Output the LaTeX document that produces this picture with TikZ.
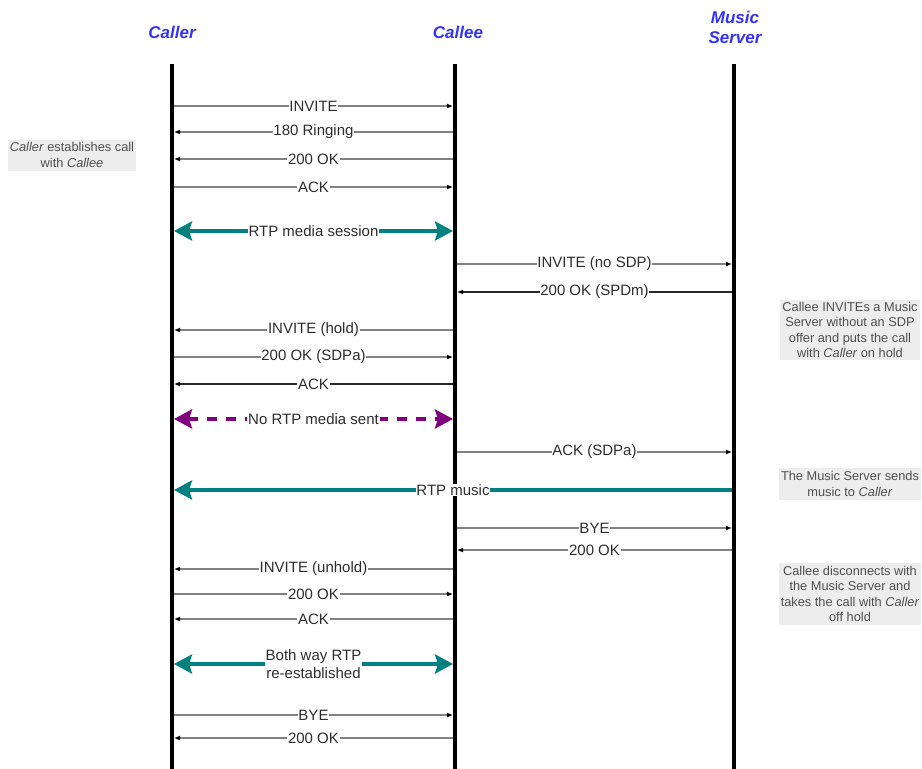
\documentclass[tikz,border=0pt]{standalone}
\usepackage{fontspec}
\setmainfont{Liberation Sans}
\usetikzlibrary{arrows.meta,positioning}
\definecolor{headblue}{RGB}{50,50,250}
\definecolor{mediateal}{RGB}{0,128,128}
\definecolor{holdpurple}{RGB}{128,0,128}
\definecolor{msggray}{RGB}{130,130,130}
\definecolor{msgdark}{RGB}{40,40,40}
\definecolor{txtdark}{RGB}{45,45,45}
\definecolor{notefill}{RGB}{237,237,237}
\definecolor{notetext}{RGB}{80,80,80}

\begin{document}
\begin{tikzpicture}[
    x=1pt, y=-1pt,
    every node/.style={align=center},
    actor/.style={font=\fontsize{17}{20}\selectfont\bfseries\itshape, text=headblue},
    lifeline/.style={line width=4pt, draw=black},
    msg/.style={draw=msggray, line width=1.3pt, -{Latex[length=6pt,width=5pt,color=black]}, shorten >=2pt, shorten <=2pt},
    darkmsg/.style={msg, draw=msgdark},
    media/.style={draw=mediateal, line width=4.5pt, {Stealth[length=18pt,width=19pt,inset=3pt]}-{Stealth[length=18pt,width=19pt,inset=3pt]}, shorten >=2pt, shorten <=2pt},
    onewaymedia/.style={media, -{Stealth[length=18pt,width=19pt,inset=3pt]}},
    nomedia/.style={media, draw=holdpurple, dash pattern=on 10pt off 9pt},
    lbl/.style={fill=white, inner sep=0.8pt, text=txtdark, font=\fontsize{15}{17}\selectfont},
    note/.style={fill=notefill, text=notetext, inner sep=2pt, font=\fontsize{12.8}{15.5}\selectfont}
]
\useasboundingbox (0,0) rectangle (922,769);

% Participants
\node[actor] (caller) at (172,32) {Caller};
\node[actor] (callee) at (458,32) {Callee};
\node[actor] (server) at (735,27) {Music\\Server};

% Lifelines
\coordinate (callerL) at (172,64);
\coordinate (calleeL) at (455,64);
\coordinate (serverL) at (734,64);
\draw[lifeline] (callerL) -- (callerL |- 0,769);
\draw[lifeline] (calleeL) -- (calleeL |- 0,769);
\draw[lifeline] (serverL) -- (serverL |- 0,769);

% Message rows
\foreach \y [count=\i] in {106,132,159,187,231,264,292,330,357,384,419,452,490,528,550,569,594,619,664,715,738}{
  \coordinate (caller-\i) at (callerL |- 0,\y);
  \coordinate (callee-\i) at (calleeL |- 0,\y);
  \coordinate (server-\i) at (serverL |- 0,\y);
}

% Call set-up
\draw[msg] (caller-1) -- node[lbl] {INVITE} (callee-1);
\draw[msg] (callee-2) -- node[lbl] {180 Ringing} (caller-2);
\draw[msg] (callee-3) -- node[lbl] {200 OK} (caller-3);
\draw[msg] (caller-4) -- node[lbl] {ACK} (callee-4);
\draw[media] (caller-5) -- node[lbl] {RTP media session} (callee-5);

% Hold with music server
\draw[msg] (callee-6) -- node[lbl] {INVITE (no SDP)} (server-6);
\draw[darkmsg] (server-7) -- node[lbl] {200 OK (SPDm)} (callee-7);
\draw[msg] (callee-8) -- node[lbl] {INVITE (hold)} (caller-8);
\draw[msg] (caller-9) -- node[lbl] {200 OK (SDPa)} (callee-9);
\draw[darkmsg] (callee-10) -- node[lbl] {ACK} (caller-10);
\draw[nomedia] (caller-11) -- node[lbl] {No RTP media sent} (callee-11);
\draw[msg] (callee-12) -- node[lbl] {ACK (SDPa)} (server-12);
\draw[onewaymedia] (server-13) -- node[lbl] {RTP music} (caller-13);

% Unhold
\draw[msg] (callee-14) -- node[lbl] {BYE} (server-14);
\draw[msg] (server-15) -- node[lbl] {200 OK} (callee-15);
\draw[msg] (callee-16) -- node[lbl] {INVITE (unhold)} (caller-16);
\draw[msg] (caller-17) -- node[lbl] {200 OK} (callee-17);
\draw[msg] (callee-18) -- node[lbl] {ACK} (caller-18);
\draw[media] (caller-19) -- node[lbl, font=\fontsize{15}{18}\selectfont] {Both way RTP\\re-established} (callee-19);

% Tear-down
\draw[msg] (caller-20) -- node[lbl] {BYE} (callee-20);
\draw[msg] (callee-21) -- node[lbl] {200 OK} (caller-21);

% Notes
\node[note, minimum width=125, minimum height=31] (setupnote) at (72,155) {\textit{Caller} establishes call\\with \textit{Callee}};
\node[note, minimum width=139, minimum height=60] (holdnote) at (850,330) {Callee INVITEs a Music\\Server without an SDP\\offer and puts the call\\with \textit{Caller} on hold};
\node[note, minimum width=139, minimum height=32] (musicnote) at (850,484) {The Music Server sends\\music to \textit{Caller}};
\node[note, minimum width=140, minimum height=62] (unholdnote) at (850,594) {Callee disconnects with\\the Music Server and\\takes the call with \textit{Caller}\\off hold};

\end{tikzpicture}
\end{document}
